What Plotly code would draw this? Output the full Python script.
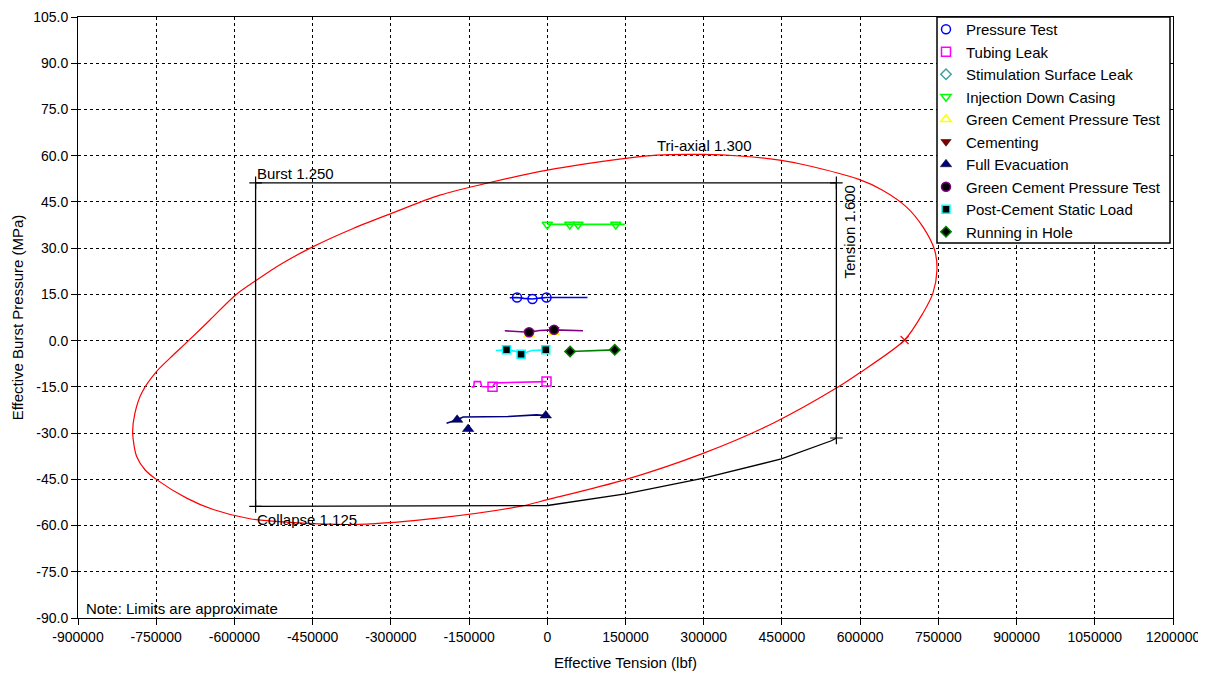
import plotly.graph_objects as go

# ---------------- data ----------------
# Tri-axial 1.300 envelope (tension lbf, pressure MPa)
tri_t = [-206100, -298700, -372300, -449000, -512800, -559400, -597700, -647000, -688600,
         -723700, -749200, -777900, -790800, -795200, -787500, -771600, -749200, -691700,
         -640700, -570300, -460000, -362700, -206100, -52700, 400, 149900, 300000, 432900,
         554400, 597800, 685300, 720400, 739600, 747300, 742800, 720400, 688600, 643000, 597800,
         496900, 449000, 369000, 300000, 209300, 149900, 400, -110200, -206100]
tri_p = [47.2, 41.3, 36.4, 30.5, 24.6, 19.4, 14.8, 6.7, -0.1,
         -5.7, -10.0, -17.0, -23.5, -30.0, -37.6, -41.9, -45.1, -51.1,
         -54.8, -57.8, -59.3, -59.6, -57.5, -53.8, -51.6, -45.1, -36.5, -26.8,
         -15.4, -10.6, 0.2, 8.9, 15.4, 22.9, 29.4, 36.9, 43.4, 48.8, 52.3,
         56.9, 58.5, 59.9, 60.4, 60.2, 59.1, 55.3, 51.3, 47.2]

# Design limits (Burst / Tension / Collapse), black
lim_t = [-559400, -559400, 554400, 554400, 544800, 449000, 300000, 149900, 400, -559400]
lim_p = [-53.8, 51.2, 51.2, -31.6, -32.5, -38.4, -44.6, -49.7, -53.5, -53.8]
corner_t = [-559400, 554400, 554400, -559400]
corner_p = [51.2, 51.2, -31.6, -53.8]

# Load cases
pt_line_t = [-72000, -58000, -45000, -28500, -14000, -1500, 77000]
pt_line_p = [13.9, 14.0, 13.7, 13.5, 13.8, 14.0, 14.0]
pt_t = [-58000, -28500, -1500]
pt_p = [14.0, 13.5, 14.0]

tl_line_t = [-145300, -141000, -140000, -128000, -126000, -105000, -100000, -10000, -1500]
tl_line_p = [-15.0, -15.0, -13.3, -13.3, -14.9, -15.0, -13.7, -13.5, -13.3]
tl_t = [-105000, -1500]
tl_p = [-15.0, -13.3]

idc_line_t = [0, 43100, 59000, 131300, 148600]
idc_line_p = [37.7, 37.7, 37.7, 37.7, 37.7]
idc_t = [0, 43100, 59000, 131300]
idc_p = [37.7, 37.7, 37.7, 37.7]

gcy_t = [-34900, 13000]
gcy_p = [1.9, 2.7]

cem_t = [-34900, 13000]
cem_p = [2.7, 3.5]

fe_line_t = [-193200, -172900, -161400, -75000, -20700, -2900]
fe_line_p = [-26.8, -25.7, -24.8, -24.6, -24.1, -24.3]
fe_t = [-172900, -151800, -2900]
fe_p = [-25.7, -28.7, -24.3]

gc_line_t = [-81500, -62000, -34900, -15000, 13000, 68500]
gc_line_p = [3.2, 3.0, 2.7, 3.3, 3.5, 3.2]
gc_t = [-34900, 13000]
gc_p = [2.7, 3.5]

pc_line_t = [-98700, -78200, -62000, -50200, -30000, -2900]
pc_line_p = [-3.2, -3.0, -3.4, -4.4, -3.2, -3.0]
pc_t = [-78200, -50200, -2900]
pc_p = [-3.0, -4.4, -3.0]

rih_line_t = [43700, 100000, 129400]
rih_line_p = [-3.55, -3.2, -3.0]
rih_t = [43700, 129400]
rih_p = [-3.55, -3.0]

x_ticks = list(range(-900000, 1200001, 150000))
y_ticks = [v for v in range(-90, 106, 15)]

FONT = "Arial, Liberation Sans, sans-serif"

# page body has an 8px default margin; figure placed so plot area matches the reference
OFF = 8
FIG_W, FIG_H = 1206 - OFF, 679 - OFF
L, R, T, B = 78 - OFF, 1173 - OFF, 17 - OFF, 618 - OFF   # plot area in figure pixels
W, H = R - L, B - T

fig = go.Figure()

# envelope & limits (no legend)
fig.add_trace(go.Scatter(x=tri_t, y=tri_p, mode="lines",
                         line=dict(color="#ff0000", width=1.2, shape="spline", smoothing=0.8),
                         showlegend=False, hoverinfo="skip"))
fig.add_trace(go.Scatter(x=[685300], y=[0.2], mode="markers",
                         marker=dict(symbol="x-thin", size=8, line=dict(color="#ff0000", width=1.2)),
                         showlegend=False, hoverinfo="skip"))
fig.add_trace(go.Scatter(x=lim_t, y=lim_p, mode="lines", line=dict(color="#000000", width=1.3),
                         showlegend=False, hoverinfo="skip"))
fig.add_trace(go.Scatter(x=corner_t, y=corner_p, mode="markers",
                         marker=dict(symbol="cross-thin", size=9, line=dict(color="#000000", width=1.2)),
                         showlegend=False, hoverinfo="skip"))

# lines for the load cases
def add_line(t, p, color):
    fig.add_trace(go.Scatter(x=t, y=p, mode="lines", line=dict(color=color, width=1.6),
                             showlegend=False, hoverinfo="skip"))

add_line(pt_line_t, pt_line_p, "#0000ff")
add_line(tl_line_t, tl_line_p, "#ff00ff")
add_line(idc_line_t, idc_line_p, "#00ff00")
add_line(fe_line_t, fe_line_p, "#000080")
add_line(gc_line_t, gc_line_p, "#800080")
add_line(pc_line_t, pc_line_p, "#00ffff")
add_line(rih_line_t, rih_line_p, "#008000")

# marker traces (legend order)
fig.add_trace(go.Scatter(name="Pressure Test", x=pt_t, y=pt_p, mode="markers",
                         marker=dict(symbol="circle-open", size=9, color="#0000ff", line=dict(width=1.5))))
fig.add_trace(go.Scatter(name="Tubing Leak", x=tl_t, y=tl_p, mode="markers",
                         marker=dict(symbol="square-open", size=9, color="#ff00ff", line=dict(width=1.5))))
fig.add_trace(go.Scatter(name="Stimulation Surface Leak", x=[None], y=[None], mode="markers",
                         marker=dict(symbol="diamond-open", size=8, color="#40a0a0", line=dict(width=1.5))))
fig.add_trace(go.Scatter(name="Injection Down Casing", x=idc_t, y=idc_p, mode="markers",
                         marker=dict(symbol="triangle-down-open", size=9, color="#00ff00", line=dict(width=1.5))))
fig.add_trace(go.Scatter(name="Green Cement Pressure Test", x=gcy_t, y=gcy_p, mode="markers",
                         marker=dict(symbol="triangle-up-open", size=9, color="#ffff00", line=dict(width=1.5))))
fig.add_trace(go.Scatter(name="Cementing", x=cem_t, y=cem_p, mode="markers",
                         marker=dict(symbol="triangle-down", size=9, color="#800000",
                                     line=dict(color="#000000", width=0.5))))
fig.add_trace(go.Scatter(name="Full Evacuation", x=fe_t, y=fe_p, mode="markers",
                         marker=dict(symbol="triangle-up", size=10, color="#000080",
                                     line=dict(color="#000000", width=0.5))))
fig.add_trace(go.Scatter(name="Green Cement Pressure Test ", x=gc_t, y=gc_p, mode="markers",
                         marker=dict(symbol="circle", size=9, color="#000000",
                                     line=dict(color="#800080", width=1.5))))
fig.add_trace(go.Scatter(name="Post-Cement Static Load", x=pc_t, y=pc_p, mode="markers",
                         marker=dict(symbol="square", size=8, color="#000000",
                                     line=dict(color="#00ffff", width=1.5))))
fig.add_trace(go.Scatter(name="Running in Hole", x=rih_t, y=rih_p, mode="markers",
                         marker=dict(symbol="diamond", size=8, color="#000000",
                                     line=dict(color="#008000", width=1.5))))

annots = [
    dict(text="Tri-axial 1.300", x=300000, y=63.4, xanchor="center", yanchor="middle"),
    dict(text="Burst 1.250", x=-559400, y=54.2, xanchor="left", yanchor="middle"),
    dict(text="Collapse 1.125", x=-559400, y=-58.1, xanchor="left", yanchor="middle"),
    dict(text="Tension 1.600", x=579900, y=35.3, xanchor="center", yanchor="middle", textangle=-90),
    dict(text="Note: Limits are approximate", x=-887000, y=-86.8, xanchor="left", yanchor="middle"),
]
for a in annots:
    fig.add_annotation(xref="x", yref="y", showarrow=False, borderpad=0,
                       font=dict(family=FONT, size=15, color="#000000"), **a)

# legend frame (box at reference position, in page pixels)
lx0, lx1, ly0, ly1 = 937 - OFF, 1170 - OFF, 17 - OFF, 243 - OFF
fig.add_shape(type="rect", xref="paper", yref="paper", layer="above",
              x0=(lx0 - L) / W, x1=(lx1 - L) / W, y0=1 - (ly1 - T) / H, y1=1 - (ly0 - T) / H,
              line=dict(color="#000000", width=1.5), fillcolor="#ffffff")

axis_common = dict(showline=True, linecolor="#000000", linewidth=1, mirror=True,
                   ticks="outside", ticklen=6, tickcolor="#000000", automargin=False,
                   showgrid=True, gridcolor="#000000", gridwidth=1, griddash="3px,3px",
                   zeroline=False, tickfont=dict(family=FONT, size=14, color="#000000"))

fig.update_xaxes(range=[-900000, 1200000], tickvals=x_ticks, ticktext=[str(v) for v in x_ticks],
                 title=dict(text="Effective Tension (lbf)", font=dict(family=FONT, size=15, color="#000000"),
                            standoff=13),
                 **axis_common)
fig.update_yaxes(range=[-90, 105], tickvals=y_ticks, ticktext=[f"{v:.1f}" for v in y_ticks],
                 title=dict(text="Effective Burst Pressure (MPa)", font=dict(family=FONT, size=15, color="#000000"),
                            standoff=5),
                 **axis_common)

fig.update_layout(
    width=FIG_W, height=FIG_H,
    margin=dict(l=L, r=FIG_W - R, t=T, b=FIG_H - B, autoexpand=False),
    paper_bgcolor="#ffffff", plot_bgcolor="#ffffff",
    font=dict(family=FONT, size=14, color="#000000"),
    legend=dict(x=(926 - OFF - L) / W, y=1 - (13 - OFF - T) / H, xanchor="left", yanchor="top",
                bgcolor="rgba(0,0,0,0)", borderwidth=0,
                font=dict(family=FONT, size=15, color="#000000"),
                itemwidth=30, tracegroupgap=0),
    showlegend=True,
)

fig.write_html("out.html")
